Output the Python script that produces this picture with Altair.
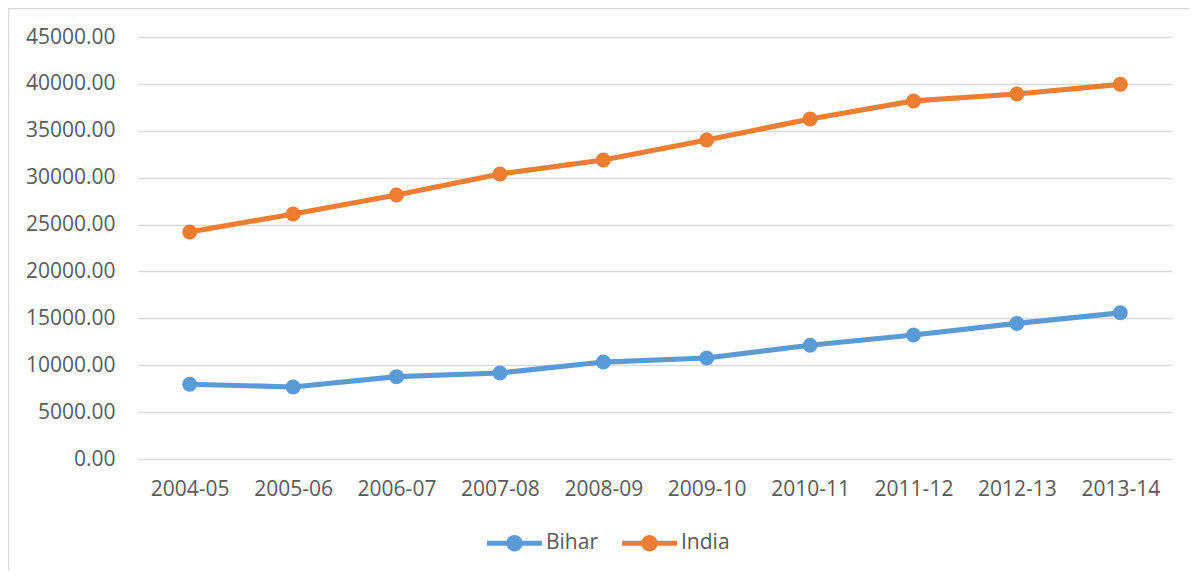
import altair as alt
import pandas as pd

years = ["2004-05", "2005-06", "2006-07", "2007-08", "2008-09",
         "2009-10", "2010-11", "2011-12", "2012-13", "2013-14"]
bihar = [7970, 7680, 8780, 9170, 10340, 10770, 12130, 13220, 14460, 15590]
india = [24210, 26130, 28150, 30390, 31880, 34020, 36260, 38180, 38920, 39950]
series = ["Bihar", "India"]
colors = ["#5B9BD5", "#ED7D31"]
y_ticks = [0, 5000, 10000, 15000, 20000, 25000, 30000, 35000, 40000, 45000]

rows = []
for name, vals in zip(series, [bihar, india]):
    for yr, v in zip(years, vals):
        rows.append({"Year": yr, "Series": name, "Value": v})
df = pd.DataFrame(rows)

FONT = "Open Sans"
FS = 21
W, H = 1034, 422
PAD = {"left": 130, "top": 29, "right": 17, "bottom": 112}

x_enc = alt.X("Year:N", sort=years, scale=alt.Scale(padding=0.5),
              axis=alt.Axis(title=None, labelAngle=0, labelPadding=19,
                            grid=False, domain=False, ticks=False))
y_enc = alt.Y("Value:Q", scale=alt.Scale(domain=[0, 45000], nice=False),
              axis=alt.Axis(title=None, values=y_ticks, format=".2f",
                            labelPadding=23, domain=False, ticks=False,
                            grid=True, gridColor="#d9d9d9", gridWidth=1.5))
color_scale = alt.Scale(domain=series, range=colors)

legend_symbol = ("M-1,-0.095H1V0.095H-1Z "
                 "M0.3,0A0.3,0.3 0 1,1 -0.3,0A0.3,0.3 0 1,1 0.3,0Z")
legend = alt.Legend(
    title=None, orient="none", direction="horizontal",
    legendX=349, legendY=478.5,
    symbolType=legend_symbol, symbolSize=3025,
    symbolStrokeWidth=0, symbolOpacity=1,
    labelFont=FONT, labelFontSize=FS, labelColor="#595959",
    labelOffset=4, columnPadding=24, padding=0)

frame = alt.Chart(alt.Data(values=[{"k": 1}])).mark_rect(
    fill=None, stroke="#d9d9d9", strokeWidth=1.5
).encode(
    x=alt.value(-129.5), y=alt.value(-28.5),
    x2=alt.value(W + PAD["right"] + 20), y2=alt.value(H + PAD["bottom"] + 20)
)

base = alt.Chart(df)
points = base.mark_point(filled=True, size=225, opacity=1).encode(
    x=x_enc, y=y_enc,
    color=alt.Color("Series:N", scale=color_scale, sort=series, legend=legend),
)
lines = base.mark_line(strokeWidth=5.2).encode(
    x=x_enc, y=y_enc,
    color=alt.Color("Series:N", scale=color_scale, sort=series, legend=legend),
)

chart = alt.layer(frame, lines, points).properties(
    width=W, height=H,
    autosize=alt.AutoSizeParams(type="none"),
    padding=PAD,
    background="white",
).configure_view(stroke=None).configure_axis(
    labelFont=FONT, labelFontSize=FS, labelColor="#595959"
)

chart.save("out.html", embed_options={"renderer": "svg", "actions": False})
